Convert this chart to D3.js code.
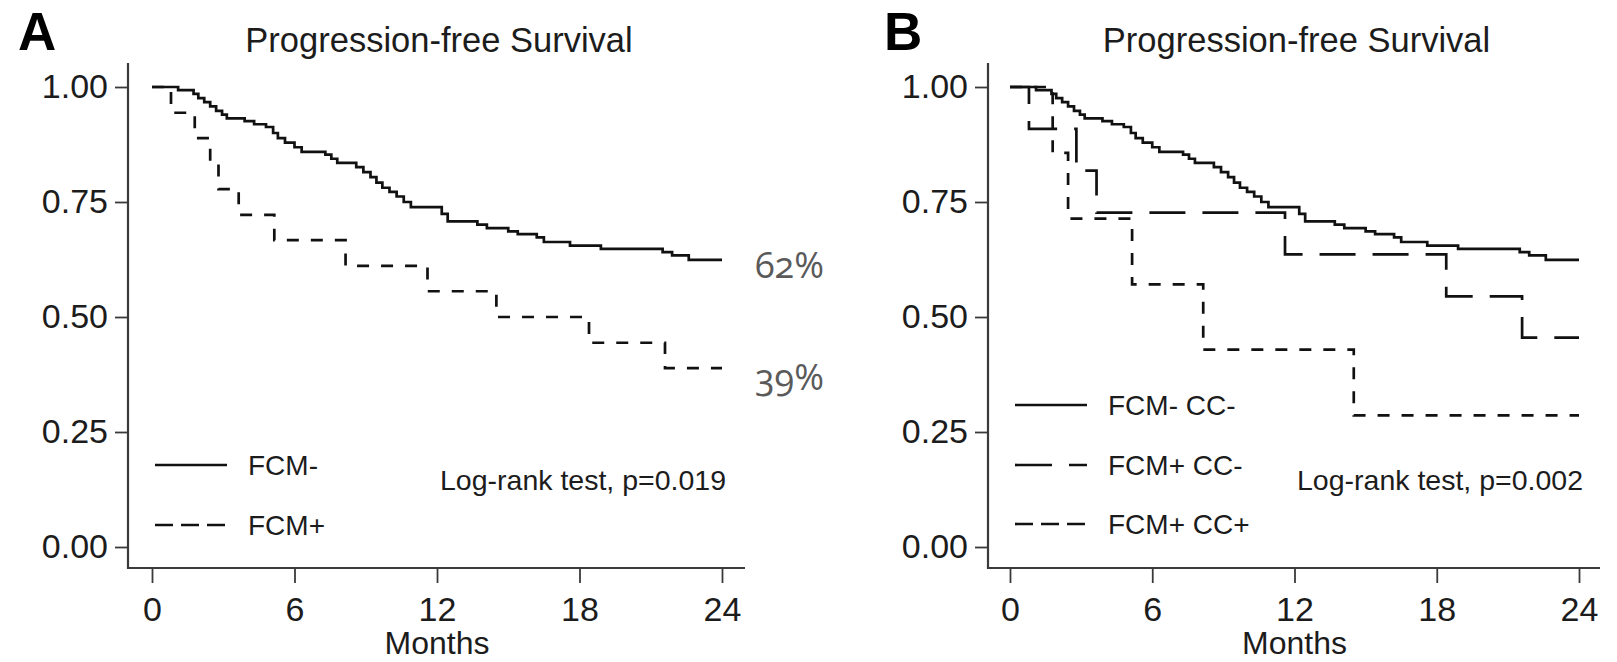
<!DOCTYPE html>
<html>
<head>
<meta charset="utf-8">
<script src="https://cdn.jsdelivr.net/npm/d3@7"></script>
<style>
  body { margin: 0; background: #fff; }
  svg { display: block; }
</style>
</head>
<body>
<svg id="chart" width="1617" height="662"></svg>
<script>
// ---------------- DATA ----------------
const monthTicks = [0, 6, 12, 18, 24];
const survTicks = [0, 0.25, 0.5, 0.75, 1];

// FCM- (also FCM- CC- in panel B): Kaplan-Meier step curve
const fcmNegTime = [0, 1.1, 1.75, 1.95, 2.2, 2.45, 2.7, 2.95, 3.15, 3.9, 4.3, 4.8, 5.1, 5.3, 5.6, 6.0, 6.3, 7.3, 7.55, 7.8, 8.6, 8.9, 9.2, 9.45, 9.7, 10.0, 10.3, 10.6, 10.9, 12.2, 12.45, 13.7, 14.1, 15.0, 15.4, 16.2, 16.5, 17.6, 18.9, 21.5, 21.9, 22.6, 24];
const fcmNegSurv = [1, 0.993, 0.985, 0.976, 0.967, 0.958, 0.948, 0.94, 0.932, 0.926, 0.919, 0.913, 0.9, 0.889, 0.879, 0.869, 0.859, 0.853, 0.844, 0.835, 0.826, 0.815, 0.804, 0.792, 0.781, 0.772, 0.762, 0.75, 0.739, 0.724, 0.708, 0.701, 0.693, 0.686, 0.68, 0.673, 0.663, 0.655, 0.648, 0.641, 0.634, 0.624, 0.624];

// FCM+
const fcmPosTime = [0, 0.8, 1.8, 2.45, 2.8, 3.65, 5.15, 8.15, 11.6, 14.5, 18.4, 21.6, 24];
const fcmPosSurv = [1, 0.944, 0.889, 0.833, 0.778, 0.722, 0.667, 0.611, 0.556, 0.5, 0.444, 0.389, 0.389];

// FCM+ CC-
const ccNegTime = [0, 0.8, 2.8, 3.65, 11.6, 18.4, 21.6, 24];
const ccNegSurv = [1, 0.909, 0.818, 0.727, 0.636, 0.545, 0.455, 0.455];

// FCM+ CC+
const ccPosTime = [0, 1.8, 2.45, 5.15, 8.15, 14.5, 24];
const ccPosSurv = [1, 0.857, 0.714, 0.571, 0.429, 0.286, 0.286];

const panelLetters = ["A", "B"];
const panelTitle = "Progression-free Survival";
const xTitle = "Months";
const legendA = ["FCM-", "FCM+"];
const legendB = ["FCM- CC-", "FCM+ CC-", "FCM+ CC+"];
const pTexts = ["Log-rank test, p=0.019", "Log-rank test, p=0.002"];
const endLabels = ["62%", "39%"];

// ---------------- DRAWING ----------------
const svg = d3.select("#chart");
const FONT = "'Liberation Sans', Arial, Helvetica, sans-serif";
const AXIS_COL = "#3a3a3a";
const TEXT_COL = "#1c1c1c";

const toPts = (t, s) => t.map((d, i) => ({ t: d, s: s[i] }));

const styles = {
  solid: { curve: null, legend: null },
  short: { curve: "12,12", legend: "18,8" },
  long:  { curve: "36,17", legend: "37,17" }
};

const panels = [
  {
    letter: panelLetters[0], letterX: 18, axisX: 128, xr: [152, 722], axisEnd: 745,
    series: [
      { pts: toPts(fcmNegTime, fcmNegSurv), style: "solid" },
      { pts: toPts(fcmPosTime, fcmPosSurv), style: "short" }
    ],
    legend: [{ label: legendA[0], style: "solid" }, { label: legendA[1], style: "short" }],
    legendY: [465, 525],
    pText: pTexts[0], pRight: 726
  },
  {
    letter: panelLetters[1], letterX: 884, axisX: 988, xr: [1010, 1579], axisEnd: 1600,
    series: [
      { pts: toPts(fcmNegTime, fcmNegSurv), style: "solid" },
      { pts: toPts(ccNegTime, ccNegSurv), style: "long" },
      { pts: toPts(ccPosTime, ccPosSurv), style: "short" }
    ],
    legend: [{ label: legendB[0], style: "solid" }, { label: legendB[1], style: "long" }, { label: legendB[2], style: "short" }],
    legendY: [405, 465, 524],
    pText: pTexts[1], pRight: 1583
  }
];

const yTop = 63, xAxisY = 568;

panels.forEach((p, pi) => {
  const x = d3.scaleLinear().domain([0, 24]).range(p.xr);
  const y = d3.scaleLinear().domain([0, 1]).range([547, 87]);
  const g = svg.append("g");

  // panel letter
  g.append("text").attr("x", p.letterX).attr("y", 50)
    .attr("font-family", FONT).attr("font-weight", "bold").attr("font-size", 53)
    .attr("fill", "#000").text(p.letter);

  // title
  g.append("text").attr("x", x(12) + 2).attr("y", 52).attr("text-anchor", "middle")
    .attr("font-family", FONT).attr("font-size", 34.5).attr("fill", TEXT_COL).text(panelTitle);

  // axis lines
  g.append("line").attr("x1", p.axisX).attr("x2", p.axisX).attr("y1", yTop).attr("y2", xAxisY + 1)
    .attr("stroke", AXIS_COL).attr("stroke-width", 2.2);
  g.append("line").attr("x1", p.axisX).attr("x2", p.axisEnd).attr("y1", xAxisY).attr("y2", xAxisY)
    .attr("stroke", AXIS_COL).attr("stroke-width", 2.2);

  // y axis
  const ya = g.append("g").attr("transform", `translate(${p.axisX},0)`)
    .call(d3.axisLeft(y).tickValues(survTicks).tickFormat(d3.format(".2f")).tickSize(13).tickPadding(7));
  ya.select(".domain").remove();
  ya.selectAll(".tick line").attr("stroke", AXIS_COL).attr("stroke-width", 1.8);
  ya.selectAll(".tick text").attr("font-family", FONT).attr("font-size", 34).attr("fill", TEXT_COL);

  // x axis
  const xa = g.append("g").attr("transform", `translate(0,${xAxisY})`)
    .call(d3.axisBottom(x).tickValues(monthTicks).tickFormat(d3.format("d")).tickSize(15).tickPadding(14));
  xa.select(".domain").remove();
  xa.selectAll(".tick line").attr("stroke", AXIS_COL).attr("stroke-width", 1.8);
  xa.selectAll(".tick text").attr("font-family", FONT).attr("font-size", 34).attr("fill", TEXT_COL);

  // x title
  g.append("text").attr("x", x(12)).attr("y", 654).attr("text-anchor", "middle")
    .attr("font-family", FONT).attr("font-size", 32).attr("fill", TEXT_COL).text(xTitle);

  // curves
  const line = d3.line().x(d => x(d.t)).y(d => y(d.s)).curve(d3.curveStepAfter);
  p.series.forEach(s => {
    g.append("path").attr("d", line(s.pts)).attr("fill", "none")
      .attr("stroke", "#111").attr("stroke-width", 2.7)
      .attr("stroke-dasharray", styles[s.style].curve);
  });

  // legend
  p.legend.forEach((l, i) => {
    const ly = p.legendY[i];
    g.append("line").attr("x1", p.axisX + 27).attr("x2", p.axisX + 99).attr("y1", ly).attr("y2", ly)
      .attr("stroke", "#111").attr("stroke-width", 2.7)
      .attr("stroke-dasharray", styles[l.style].legend);
    g.append("text").attr("x", p.axisX + 120).attr("y", ly).attr("dy", "0.36em")
      .attr("font-family", FONT).attr("font-size", 28).attr("fill", TEXT_COL).text(l.label);
  });

  // log-rank
  g.append("text").attr("x", p.pRight).attr("y", 480).attr("dy", "0.36em").attr("text-anchor", "end")
    .attr("font-family", FONT).attr("font-size", 28.5).attr("fill", TEXT_COL).text(p.pText);

  // end labels (panel A only)
  if (pi === 0) {
    [[endLabels[0], 278], [endLabels[1], 390]].forEach(([txt, by]) => {
      g.append("text").attr("x", 755).attr("y", by)
        .attr("font-family", "'Open Sans', 'Noto Sans', sans-serif").attr("font-size", 36)
        .style("font-variant-numeric", "oldstyle-nums")
        .attr("fill", "#5a5a5a").text(txt);
    });
  }
});
</script>
</body>
</html>
